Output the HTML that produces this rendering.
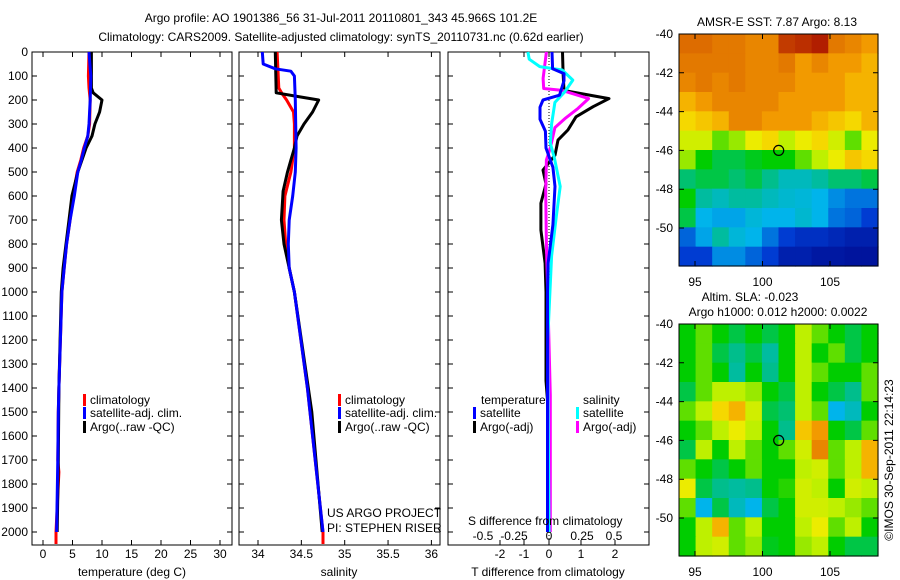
<!DOCTYPE html>
<html><head><meta charset="utf-8"><style>
html,body{margin:0;padding:0;background:#fff;}
svg{display:block;font-family:"Liberation Sans",sans-serif;}
text{font-size:12px;fill:#000;}
</style></head><body>
<svg id="fig" width="900" height="580" viewBox="0 0 900 580">
<rect width="900" height="580" fill="#fff"/>
<text x="341" y="22" text-anchor="middle">Argo profile: AO 1901386_56 31-Jul-2011 20110801_343 45.966S 101.2E</text>
<text x="341" y="41" text-anchor="middle">Climatology: CARS2009. Satellite-adjusted climatology: synTS_20110731.nc (0.62d earlier)</text>
<g id="g1"></g>
<g id="g2"></g>
<g id="g3"></g>
<g id="m1"></g>
<g id="m2"></g>
</svg>
<script>
// ---- depth axis
const depthTicks = [0,100,200,300,400,500,600,700,800,900,1000,1100,1200,1300,1400,1500,1600,1700,1800,1900,2000];
// ---- temperature panel data
const tClimDepth = [0,100,150,200,300,350,400,450,500,600,700,800,900,1000,1400,1500,1700,1750,2000,2050];
const tClimVal   = [7.8,7.7,7.8,8.0,7.9,7.6,6.9,6.4,5.8,5.1,4.6,4.0,3.6,3.2,2.7,2.6,2.5,2.7,2.2,2.2];
const tSatDepth  = [0,100,200,300,350,400,450,500,600,700,800,900,1000,1400,1500,1700,2000];
const tSatVal    = [7.8,8.1,8.0,7.8,7.6,7.0,6.5,5.9,5.3,4.6,4.0,3.6,3.2,2.7,2.6,2.5,2.3];
const tArgoDepth = [0,150,170,200,250,300,350,400,500,600,700,800,900,1000,1400,1700,2000];
const tArgoVal   = [8.2,8.2,8.5,10.0,9.6,8.8,8.3,7.3,5.9,4.9,4.4,3.9,3.4,3.1,2.7,2.6,2.4];
const tTicks = [0,5,10,15,20,25,30];
// ---- salinity panel data
const sClimDepth = [0,150,175,200,250,300,400,500,600,700,800,900,1000,1400,1700,2000,2050];
const sClimVal   = [34.22,34.24,34.28,34.33,34.41,34.42,34.42,34.38,34.31,34.3,34.32,34.36,34.42,34.57,34.66,34.75,34.75];
const sSatDepth  = [0,50,70,80,100,200,400,500,600,700,800,900,1000,1400,1500,1700,2000];
const sSatVal    = [34.05,34.06,34.2,34.38,34.42,34.43,34.44,34.43,34.4,34.36,34.35,34.36,34.42,34.57,34.6,34.66,34.75];
const sArgoDepth = [0,170,185,200,250,300,350,400,450,500,580,700,800,900,1000,1500,2000];
const sArgoVal   = [34.2,34.21,34.45,34.7,34.63,34.53,34.45,34.42,34.38,34.34,34.29,34.27,34.3,34.36,34.42,34.62,34.74];
const sTicks = [34,34.5,35,35.5,36];
// ---- difference panel data
const dTSatDepth = [0,70,90,120,180,200,230,280,330,400,480,560,720,880,1000,1400,2000];
const dTSatVal   = [0.1,0.12,0.5,0.5,0.35,-0.2,-0.3,-0.3,-0.12,-0.1,0.13,0.2,0.13,-0.03,-0.05,-0.05,-0.05];
const dTArgoDepth= [0,90,160,165,194,228,270,325,367,430,492,550,630,742,880,1000,1370,1500,2000];
const dTArgoVal  = [0.45,0.47,0.5,0.7,2.0,1.47,0.9,0.63,0.3,0.2,-0.2,-0.1,-0.27,-0.27,-0.13,-0.1,-0.1,-0.02,-0.02];
const dSSatDepth = [0,30,61,75,117,166,210,300,380,440,560,685,850,1200,2000];
const dSSatVal   = [-0.16,-0.15,-0.07,0.1,0.18,0.12,0.045,0.02,0.01,0.04,0.085,0.055,0.02,-0.01,0.0];
const dSArgoDepth= [0,110,152,160,194,235,278,315,400,450,580,800,1000,1430,2000];
const dSArgoVal  = [-0.02,-0.045,-0.04,0.1,0.3,0.22,0.12,0.045,0.01,-0.02,-0.025,-0.02,-0.01,0.01,0.01];
const tdTickVals = [-2,-1,0,1,2];
const tdTickPos  = [500,524,549,581,615];
const sdTickLabels = ["-0.5","-0.25","0","0.25","0.5"];
const sdTickPos  = [483,514,549,582,614];
// ---- map data (colormap index 0..1)
const mapLonTicks = [95,100,105];
const mapLatTicks = [-40,-42,-44,-46,-48,-50];
const sstGrid = [
[0.82,0.82,0.8,0.8,0.78,0.78,0.9,0.92,0.95,0.8,0.78,0.75],
[0.8,0.8,0.8,0.8,0.78,0.78,0.8,0.75,0.78,0.75,0.75,0.72],
[0.78,0.8,0.78,0.8,0.78,0.78,0.78,0.75,0.75,0.75,0.72,0.72],
[0.72,0.75,0.78,0.78,0.78,0.78,0.75,0.75,0.75,0.75,0.72,0.72],
[0.68,0.7,0.72,0.78,0.78,0.75,0.75,0.75,0.72,0.7,0.68,0.72],
[0.62,0.62,0.55,0.58,0.65,0.68,0.6,0.65,0.68,0.62,0.55,0.65],
[0.58,0.5,0.45,0.45,0.48,0.5,0.5,0.55,0.6,0.65,0.7,0.68],
[0.42,0.45,0.45,0.42,0.45,0.4,0.35,0.35,0.38,0.42,0.42,0.45],
[0.5,0.38,0.35,0.38,0.38,0.35,0.33,0.32,0.3,0.25,0.22,0.22],
[0.45,0.3,0.28,0.28,0.32,0.3,0.3,0.33,0.3,0.22,0.2,0.15],
[0.2,0.28,0.38,0.32,0.3,0.22,0.15,0.12,0.12,0.1,0.08,0.08],
[0.15,0.15,0.25,0.25,0.2,0.15,0.08,0.08,0.06,0.06,0.05,0.05]];
const slaGrid = [
[0.5,0.55,0.5,0.45,0.5,0.45,0.5,0.6,0.55,0.5,0.45,0.5],
[0.5,0.55,0.45,0.4,0.45,0.38,0.5,0.6,0.5,0.55,0.45,0.5],
[0.5,0.55,0.5,0.38,0.5,0.4,0.5,0.6,0.55,0.5,0.5,0.55],
[0.45,0.55,0.6,0.6,0.58,0.5,0.45,0.6,0.5,0.45,0.4,0.55],
[0.55,0.6,0.68,0.72,0.62,0.45,0.42,0.6,0.55,0.3,0.35,0.5],
[0.5,0.55,0.6,0.65,0.6,0.5,0.4,0.7,0.75,0.5,0.45,0.55],
[0.45,0.6,0.5,0.6,0.55,0.5,0.55,0.62,0.78,0.55,0.6,0.72],
[0.55,0.5,0.45,0.5,0.55,0.5,0.5,0.6,0.62,0.55,0.6,0.72],
[0.65,0.45,0.4,0.38,0.4,0.5,0.52,0.62,0.6,0.5,0.62,0.6],
[0.55,0.3,0.45,0.35,0.3,0.45,0.5,0.62,0.62,0.6,0.58,0.55],
[0.5,0.6,0.72,0.55,0.6,0.5,0.5,0.6,0.65,0.55,0.6,0.5],
[0.5,0.6,0.62,0.55,0.58,0.48,0.5,0.58,0.6,0.5,0.45,0.45]];
const argoLon = 101.2, argoLat = -46;

const NS="http://www.w3.org/2000/svg";
function mk(parent,tag,attrs,txt){const e=document.createElementNS(NS,tag);for(const k in attrs)e.setAttribute(k,attrs[k]);if(txt!==undefined)e.textContent=txt;parent.appendChild(e);return e;}
const Y0=52, Y1=545;
const yD = d => Y0 + d*0.24;
const xT = t => 43 + t*5.9;
const xS = s => 258 + (s-34)*86.7;
const xDT = v => 549 + v*30;
const xDS = v => 549 + v*132;

function frame(g,x0,x1,name){
  const r=mk(g,'rect',{x:x0,y:Y0,width:x1-x0,height:Y1-Y0,fill:'none',stroke:'#000','stroke-width':1});
  
  
  depthTicks.forEach(d=>{
    const t=mk(g,'path',{d:`M${x0},${yD(d)}h5M${x1},${yD(d)}h-5`,stroke:'#000'});
    
    
  });
}
function series(g,depths,vals,xf,color,name,w){
  const pts=depths.map((d,i)=>xf(vals[i]).toFixed(1)+','+yD(d).toFixed(1)).join(' ');
  const p=mk(g,'polyline',{points:pts,fill:'none',stroke:color,'stroke-width':w||3,'stroke-linejoin':'round'});
  
  
}
function legend(g,x,y,color,label,name){
  const m=mk(g,'rect',{x:x,y:y-6,width:3,height:12,fill:color});
  
  
  const t=mk(g,'text',{x:x+7,y:y+4},label);
  
  
}
function xtick(g,x,label,ly,name){
  const t=mk(g,'path',{d:`M${x},${Y0}v5M${x},${Y1}v-5`,stroke:'#000'});
  
  
  const l=mk(g,'text',{x:x,y:ly,'text-anchor':'middle'},label);
  
  
}
// Panel 1
const g1=document.getElementById('g1');
frame(g1,32,232,'temperature-panel');
depthTicks.forEach(d=>{const l=mk(g1,'text',{x:28,y:yD(d)+4,'text-anchor':'end'},String(d));
  
  });
tTicks.forEach(t=>xtick(g1,xT(t),String(t),558,'temperature-x'));
series(g1,tClimDepth,tClimVal,xT,'#f00','temperature-climatology-line');
series(g1,tArgoDepth,tArgoVal,xT,'#000','temperature-argo-line');
series(g1,tSatDepth,tSatVal,xT,'#00f','temperature-satellite-line');
legend(g1,83,400,'#f00','climatology','temp-legend-climatology');
legend(g1,83,413,'#00f','satellite-adj. clim.','temp-legend-satellite');
legend(g1,83,427,'#000','Argo(..raw -QC)','temp-legend-argo');
let xl=mk(g1,'text',{x:132,y:576,'text-anchor':'middle'},'temperature (deg C)');


// Panel 2
const g2=document.getElementById('g2');
frame(g2,239,440,'salinity-panel');
sTicks.forEach(s=>xtick(g2,xS(s),String(s),558,'salinity-x'));
series(g2,sClimDepth,sClimVal,xS,'#f00','salinity-climatology-line');
series(g2,sArgoDepth,sArgoVal,xS,'#000','salinity-argo-line');
series(g2,sSatDepth,sSatVal,xS,'#00f','salinity-satellite-line');
legend(g2,338,400,'#f00','climatology','sal-legend-climatology');
legend(g2,338,413,'#00f','satellite-adj. clim.','sal-legend-satellite');
legend(g2,338,427,'#000','Argo(..raw -QC)','sal-legend-argo');
xl=mk(g2,'text',{x:339,y:576,'text-anchor':'middle'},'salinity');


let tx=mk(g2,'text',{x:327,y:517},'US ARGO PROJECT');


tx=mk(g2,'text',{x:327,y:532},'PI: STEPHEN RISER');


// Panel 3
const g3=document.getElementById('g3');
frame(g3,448,649,'difference-panel');
const zl=mk(g3,'line',{x1:549,y1:Y0,x2:549,y2:Y1,stroke:'#000','stroke-dasharray':'1,2'});


tdTickVals.forEach((v,i)=>xtick(g3,tdTickPos[i],String(v),558,'t-diff-x'));
sdTickLabels.forEach((v,i)=>{const l=mk(g3,'text',{x:sdTickPos[i],y:540,'text-anchor':'middle'},v);
  
  });
series(g3,dTArgoDepth,dTArgoVal,xDT,'#000','t-diff-argo-line');
series(g3,dSArgoDepth,dSArgoVal,xDS,'#f0f','s-diff-argo-line');
series(g3,dSSatDepth,dSSatVal,xDS,'#0ff','s-diff-satellite-line');
series(g3,dTSatDepth,dTSatVal,xDT,'#00f','t-diff-satellite-line');
tx=mk(g3,'text',{x:481,y:404},'temperature');


tx=mk(g3,'text',{x:583,y:404},'salinity');


legend(g3,473,413,'#00f','satellite','diff-legend-t-satellite');
legend(g3,473,427,'#000','Argo(-adj)','diff-legend-t-argo');
legend(g3,576,413,'#0ff','satellite','diff-legend-s-satellite');
legend(g3,576,427,'#f0f','Argo(-adj)','diff-legend-s-argo');
tx=mk(g3,'text',{x:468,y:525},'S difference from climatology');


xl=mk(g3,'text',{x:548,y:576,'text-anchor':'middle'},'T difference from climatology');


// Maps
const cmapStops=[[0,[0,0,130]],[0.15,[0,60,210]],[0.3,[0,180,235]],[0.4,[0,190,140]],[0.5,[0,205,0]],[0.6,[190,240,0]],[0.66,[245,235,0]],[0.74,[245,160,0]],[0.84,[215,95,0]],[1,[160,0,0]]];
function cmap(v){v=Math.max(0,Math.min(1,v));
  for(let i=1;i<cmapStops.length;i++){const [a,ca]=cmapStops[i-1],[b,cb]=cmapStops[i];
    if(v<=b){const f=(v-a)/(b-a);return 'rgb('+ca.map((c,k)=>Math.round(c+(cb[k]-c)*f)).join(',')+')';}}
  return 'rgb(160,0,0)';}
function drawMap(g,grid,top,name,labY){
  const X0=679,X1=878,Y0m=top,H=232;
  const lonX=l=>695+(l-95)*13.5, latY=la=>Y0m+(-40-la)*19.4;
  const rows=grid.length, cols=grid[0].length, cw=(X1-X0)/cols, ch=H/rows;
  grid.forEach((row,r)=>row.forEach((v,c)=>{
    const cell=mk(g,'rect',{x:(X0+c*cw).toFixed(2),y:(Y0m+r*ch).toFixed(2),width:(cw+0.6).toFixed(2),height:(ch+0.6).toFixed(2),fill:cmap(v)});
    
    
  }));
  const fr=mk(g,'rect',{x:X0,y:Y0m,width:X1-X0,height:H,fill:'none',stroke:'#000'});
  
  
  mapLatTicks.forEach(la=>{const y=latY(la);
    const t=mk(g,'path',{d:`M${X0},${y}h5M${X1},${y}h-5`,stroke:'#000'});
    
    
    const l=mk(g,'text',{x:673,y:y+4,'text-anchor':'end'},String(la));
    
    });
  mapLonTicks.forEach(lo=>{const x=lonX(lo);
    const t=mk(g,'path',{d:`M${x},${Y0m}v5M${x},${Y0m+H}v-5`,stroke:'#000'});
    
    
    const l=mk(g,'text',{x:x,y:labY,'text-anchor':'middle'},String(lo));
    
    });
  const ci=mk(g,'circle',{cx:lonX(argoLon),cy:latY(argoLat),r:5,fill:'none',stroke:'#000','stroke-width':1.2});
  
  
}
const m1=document.getElementById('m1'), m2=document.getElementById('m2');
drawMap(m1,sstGrid,34,'sst-map',286);
drawMap(m2,slaGrid,324,'sla-map',576);
tx=mk(m1,'text',{x:777,y:26,'text-anchor':'middle'},'AMSR-E SST: 7.87 Argo: 8.13');


tx=mk(m2,'text',{x:750,y:301,'text-anchor':'middle'},'Altim. SLA: -0.023');


tx=mk(m2,'text',{x:778,y:316,'text-anchor':'middle'},'Argo h1000: 0.012 h2000: 0.0022');


tx=mk(m2,'text',{x:0,y:0,'text-anchor':'middle',transform:'translate(893,460) rotate(-90)'},'©IMOS 30-Sep-2011 22:14:23');


</script>
</body></html>
